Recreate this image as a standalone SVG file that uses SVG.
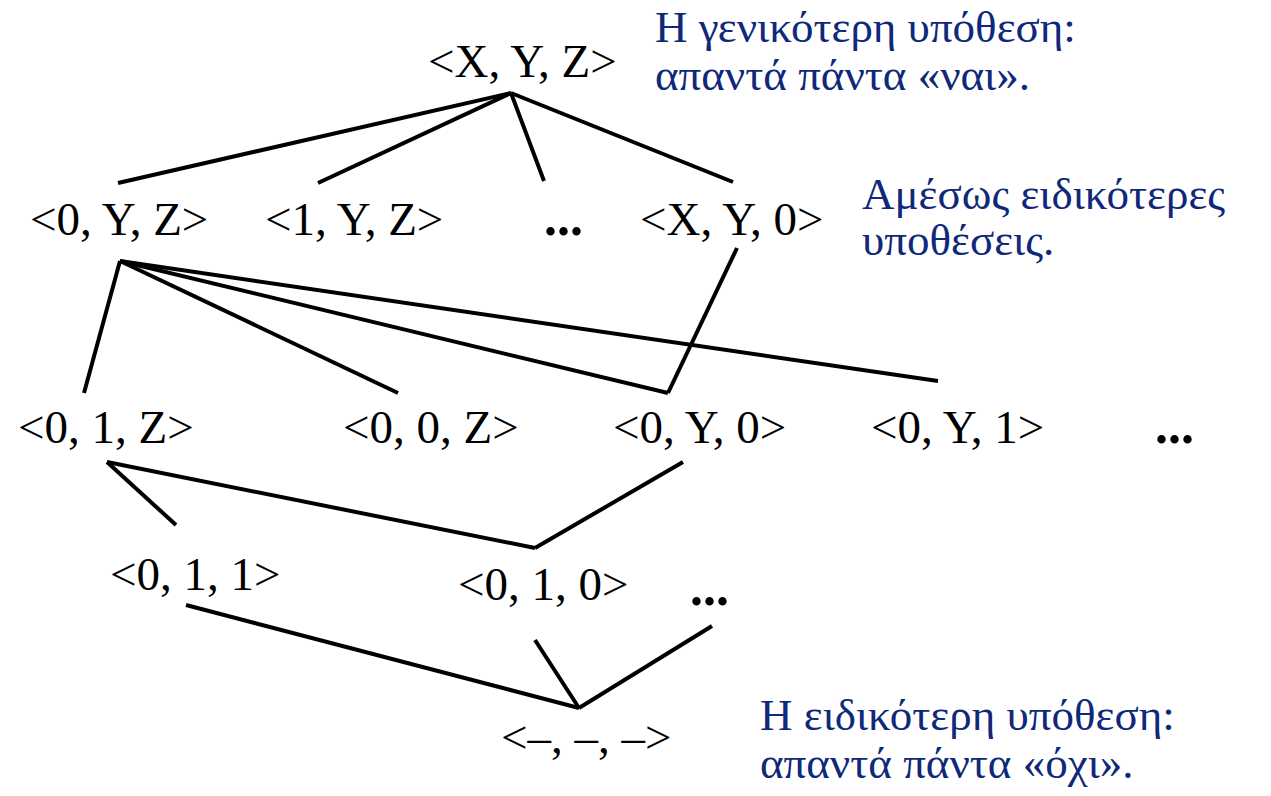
<svg xmlns="http://www.w3.org/2000/svg" width="1271" height="796" viewBox="0 0 1271 796">
<style>
.n{font-family:"Liberation Serif","Times New Roman",serif;font-size:47px;fill:#000}
.d{font-family:"Liberation Serif","Times New Roman",serif;font-size:52px;font-weight:bold;fill:#000}
.b{font-family:"Liberation Serif","DejaVu Serif",serif;font-size:45px;fill:#10287a}
.c line{stroke:#000;stroke-width:4;stroke-linecap:butt}
</style>
<rect width="1271" height="796" fill="#fff"/>
<g id="connectors" class="c">
<line x1="511" y1="93" x2="118" y2="183"/>
<line x1="511" y1="93" x2="318" y2="183"/>
<line x1="511" y1="93" x2="544" y2="181"/>
<line x1="511" y1="93" x2="733" y2="182"/>
<line x1="120" y1="261" x2="84" y2="393"/>
<line x1="120" y1="261" x2="398" y2="393"/>
<line x1="120" y1="261" x2="668" y2="393"/>
<line x1="120" y1="261" x2="938" y2="381"/>
<line x1="737" y1="248" x2="668" y2="393"/>
<line x1="107" y1="462" x2="176" y2="525"/>
<line x1="107" y1="462" x2="535" y2="548"/>
<line x1="683" y1="462" x2="535" y2="548"/>
<line x1="186" y1="605" x2="579" y2="708"/>
<line x1="535" y1="640" x2="579" y2="708"/>
<line x1="712" y1="626" x2="579" y2="708"/>
</g>
<g id="n-xyz"><text class="n" x="428" y="77">&lt;X, Y, Z&gt;</text></g>
<g id="n-0yz"><text class="n" x="30" y="235">&lt;0, Y, Z&gt;</text></g>
<g id="n-1yz"><text class="n" x="265" y="235">&lt;1, Y, Z&gt;</text></g>
<g id="n-dots1"><text class="d" x="544" y="235">...</text></g>
<g id="n-xy0"><text class="n" x="640" y="235">&lt;X, Y, 0&gt;</text></g>
<g id="n-01z"><text class="n" x="18" y="443">&lt;0, 1, Z&gt;</text></g>
<g id="n-00z"><text class="n" x="343" y="443">&lt;0, 0, Z&gt;</text></g>
<g id="n-0y0"><text class="n" x="613" y="443">&lt;0, Y, 0&gt;</text></g>
<g id="n-0y1"><text class="n" x="871" y="443">&lt;0, Y, 1&gt;</text></g>
<g id="n-dots2"><text class="d" x="1155" y="443">...</text></g>
<g id="n-011"><text class="n" x="110" y="590">&lt;0, 1, 1&gt;</text></g>
<g id="n-010"><text class="n" x="458" y="600">&lt;0, 1, 0&gt;</text></g>
<g id="n-dots3"><text class="d" x="690" y="605">...</text></g>
<g id="n-bottom"><text class="n" x="501" y="753">&lt;–, –, –&gt;</text></g>
<g id="note-general"><text class="b" x="655" y="42">Η γενικότερη υπόθεση:</text><text class="b" x="655" y="90">απαντά πάντα «ναι».</text></g>
<g id="note-immediate"><text class="b" x="862" y="209">Αμέσως ειδικότερες</text><text class="b" x="862" y="255">υποθέσεις.</text></g>
<g id="note-specific"><text class="b" x="760" y="730">Η ειδικότερη υπόθεση:</text><text class="b" x="760" y="778">απαντά πάντα «όχι».</text></g>
</svg>
